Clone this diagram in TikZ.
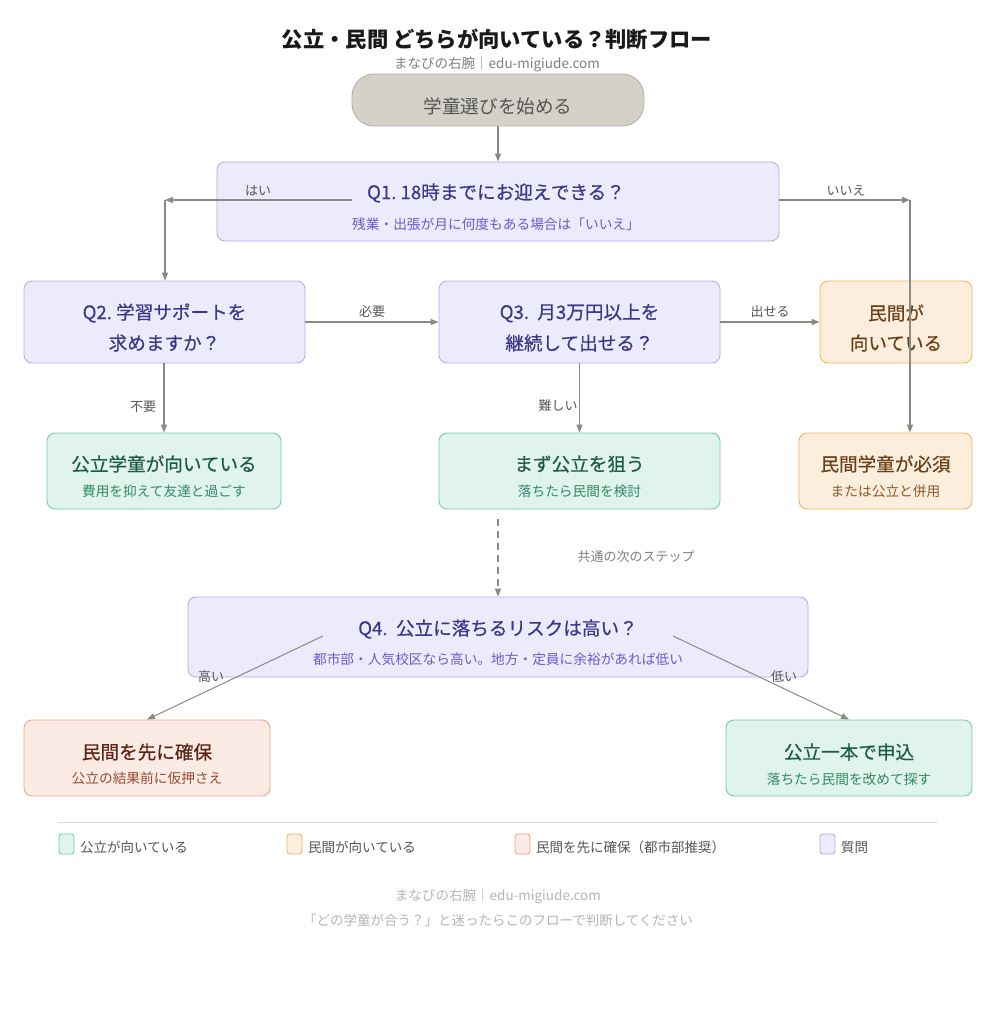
\documentclass[tikz,border=0pt]{standalone}
\usepackage{fontspec}
\setmainfont{Noto Sans CJK JP}
\newfontfamily\medfont[FakeBold=0.4]{Noto Sans CJK JP}
\usetikzlibrary{arrows.meta}
\definecolor{qfill}{HTML}{ECEBFC}
\definecolor{qdraw}{HTML}{B3ACF2}
\definecolor{qtext}{HTML}{3C3588}
\definecolor{qsub}{HTML}{6A5BD0}
\definecolor{gfill}{HTML}{E1F4EC}
\definecolor{gdraw}{HTML}{72CFA6}
\definecolor{gtext}{HTML}{1E5B45}
\definecolor{gsub}{HTML}{2F8A66}
\definecolor{ofill}{HTML}{FBEEDC}
\definecolor{odraw}{HTML}{F0B35E}
\definecolor{otext}{HTML}{6B4016}
\definecolor{osub}{HTML}{8B5A2B}
\definecolor{sfill}{HTML}{FBEBE5}
\definecolor{sdraw}{HTML}{EFA58C}
\definecolor{stext}{HTML}{5E2414}
\definecolor{ssub}{HTML}{9A4A2E}
\definecolor{stfill}{HTML}{D4D1C9}
\definecolor{stdraw}{HTML}{B5B2A8}
\definecolor{linec}{HTML}{8A8A85}
\definecolor{lblc}{HTML}{555555}
\definecolor{footc}{HTML}{B5B5B5}
\tikzset{
  x=1pt,y=-1pt,
  box/.style={draw, line width=0.9pt, rounded corners=8pt, inner sep=0pt},
  qbox/.style={box, fill=qfill, draw=qdraw},
  gbox/.style={box, fill=gfill, draw=gdraw},
  obox/.style={box, fill=ofill, draw=odraw},
  sbox/.style={box, fill=sfill, draw=sdraw},
  ttl/.style={font=\fontsize{18.6}{22}\selectfont\medfont, inner sep=0pt, anchor=center},
  sub/.style={font=\fontsize{13.7}{16}\selectfont, inner sep=0pt, anchor=center},
  lbl/.style={font=\fontsize{13}{16}\selectfont, text=lblc, inner sep=0pt, anchor=center},
  arr/.style={draw=linec, line width=1.4pt, -{Triangle[length=8pt,width=6pt]}},
  thin arr/.style={draw=linec, line width=1pt, -{Triangle[length=8pt,width=6pt]}},
  lg/.style={draw, line width=0.9pt, rounded corners=3pt, minimum width=15pt, minimum height=20pt, inner sep=0pt},
  lgt/.style={font=\fontsize{13.5}{16}\selectfont, text=lblc, inner sep=0pt, anchor=west},
}
\begin{document}
\begin{tikzpicture}
\useasboundingbox[fill=white] (0,0) rectangle (995,1024);
% title
\node[inner sep=0pt, font=\fontsize{21.3}{24}\selectfont\bfseries, text=black!90] (title) at (497,39) {公立・民間 どちらが向いている？判断フロー};
\node[inner sep=0pt, font=\fontsize{13.5}{16}\selectfont, text=gray] (subt) at (497,64) {まなびの右腕｜edu-migiude.com};
% start
\node[draw=stdraw, fill=stfill, line width=0.9pt, rounded corners=22pt, minimum width=292pt, minimum height=52pt, inner sep=0pt] (start) at (498,100) {};
\node[inner sep=0pt, font=\fontsize{18.6}{22}\selectfont, text=lblc] (startt) at (498,106) {学童選びを始める};
% Q1
\node[qbox, minimum width=562pt, minimum height=79pt] (q1) at (498,201.5) {};
\node[ttl, text=qtext] (q1t) at (496,193) {Q1.\ 18時までにお迎えできる？};
\node[sub, text=qsub] (q1s) at (496,224) {残業・出張が月に何度もある場合は「いいえ」};
% Q2
\node[qbox, minimum width=281pt, minimum height=82pt] (q2) at (164.5,322) {};
\node[ttl, text=qtext] (q2t) at (164.5,313) {Q2.\ 学習サポートを};
\node[ttl, text=qtext] (q2u) at (164.5,343) {求めますか？};
% Q3
\node[qbox, minimum width=281pt, minimum height=82pt] (q3) at (579.5,322) {};
\node[ttl, text=qtext] (q3t) at (579.5,313) {Q3.\ \ 月3万円以上を};
\node[ttl, text=qtext] (q3u) at (579.5,343) {継続して出せる？};
% private suits
\node[obox, minimum width=152pt, minimum height=82pt] (pv) at (896,322) {};
\node[ttl, text=otext] (pvt) at (896,313) {民間が};
\node[ttl, text=otext] (pvu) at (896,343) {向いている};
% public suits
\node[gbox, minimum width=234pt, minimum height=76pt] (pub) at (164,471) {};
\node[ttl, text=gtext] (pubt) at (164,464) {公立学童が向いている};
\node[sub, text=gsub] (pubs) at (164,491) {費用を抑えて友達と過ごす};
% public first
\node[gbox, minimum width=281pt, minimum height=76pt] (pf) at (579.5,471) {};
\node[ttl, text=gtext] (pft) at (579.5,464) {まず公立を狙う};
\node[sub, text=gsub] (pfs) at (579.5,491) {落ちたら民間を検討};
% private must
\node[obox, minimum width=173pt, minimum height=76pt] (pm) at (885.5,471) {};
\node[ttl, text=otext] (pmt) at (885.5,464) {民間学童が必須};
\node[sub, text=osub] (pms) at (885.5,491) {または公立と併用};
% Q4
\node[qbox, minimum width=620pt, minimum height=80pt] (q4) at (498,637) {};
\node[ttl, text=qtext] (q4t) at (498,629) {Q4.\ \ 公立に落ちるリスクは高い？};
\node[sub, text=qsub] (q4s) at (498,659) {都市部・人気校区なら高い。地方・定員に余裕があれば低い};
% secure private first
\node[sbox, minimum width=246pt, minimum height=76pt] (sp) at (147,758) {};
\node[ttl, text=stext] (spt) at (147,752) {民間を先に確保};
\node[sub, text=ssub] (sps) at (147,778) {公立の結果前に仮押さえ};
% public only
\node[gbox, minimum width=246pt, minimum height=76pt] (po) at (849,758) {};
\node[ttl, text=gtext] (pot) at (849,752) {公立一本で申込};
\node[sub, text=gsub] (pos) at (849,779) {落ちたら民間を改めて探す};
% connectors
\draw[arr] (start.south) -- (q1.north);
\coordinate (yesA) at (352,200);
\coordinate (yesB) at (165,200);
\draw[arr] (yesA) -- (yesB);
\draw[arr] (yesB) -- (q2.north -| yesB);
\node[lbl] (yesl) at (258,191) {はい};
\coordinate (noB) at (910,200);
\draw[arr] (q1.east |- noB) -- (noB);
\draw[arr] (noB) -- (pm.north -| noB);
\node[lbl] (nol) at (846,191) {いいえ};
\draw[arr] (q2.east) -- (q3.west);
\node[lbl] (needl) at (372,312) {必要};
\draw[arr] (q3.east) -- (pv.west);
\node[lbl] (canl) at (770,312) {出せる};
\draw[arr] (q2.south -| pub.north) -- (pub.north);
\node[lbl] (notl) at (143,407) {不要};
\draw[arr] (q3.south) -- (pf.north);
\node[lbl] (hardl) at (558,406) {難しい};
\coordinate (dA) at (498,519);
\draw[arr, dash pattern=on 7pt off 5pt] (dA) -- (q4.north -| dA);
\node[lbl, text=gray] (commonl) at (636,557) {共通の次のステップ};
\coordinate (hiA) at (323,636);
\coordinate (loA) at (673,636);
\draw[thin arr] (hiA) -- (sp.north);
\draw[thin arr] (loA) -- (po.north);
\node[lbl] (hil) at (211,677) {高い};
\node[lbl] (lol) at (784,677) {低い};
% legend
\draw[draw=black!15, line width=1pt] (58,822) -- (937,822);
\node[lg, draw=gdraw, fill=gfill] (lg1) at (66.5,844) {};
\node[lgt] (lg1t) at (80,847) {公立が向いている};
\node[lg, draw=odraw, fill=ofill] (lg2) at (294.5,844) {};
\node[lgt] (lg2t) at (308,847) {民間が向いている};
\node[lg, draw=sdraw, fill=sfill] (lg3) at (522.5,844) {};
\node[lgt] (lg3t) at (536,847) {民間を先に確保（都市部推奨）};
\node[lg, draw=qdraw, fill=qfill] (lg4) at (827.5,844) {};
\node[lgt] (lg4t) at (841,847) {質問};
% footer
\node[inner sep=0pt, font=\fontsize{13.5}{16}\selectfont, text=footc] (f1) at (498,896) {まなびの右腕｜edu-migiude.com};
\node[inner sep=0pt, font=\fontsize{13.5}{16}\selectfont, text=footc] (f2) at (498,920) {「どの学童が合う？」と迷ったらこのフローで判断してください};
\end{tikzpicture}
\end{document}
